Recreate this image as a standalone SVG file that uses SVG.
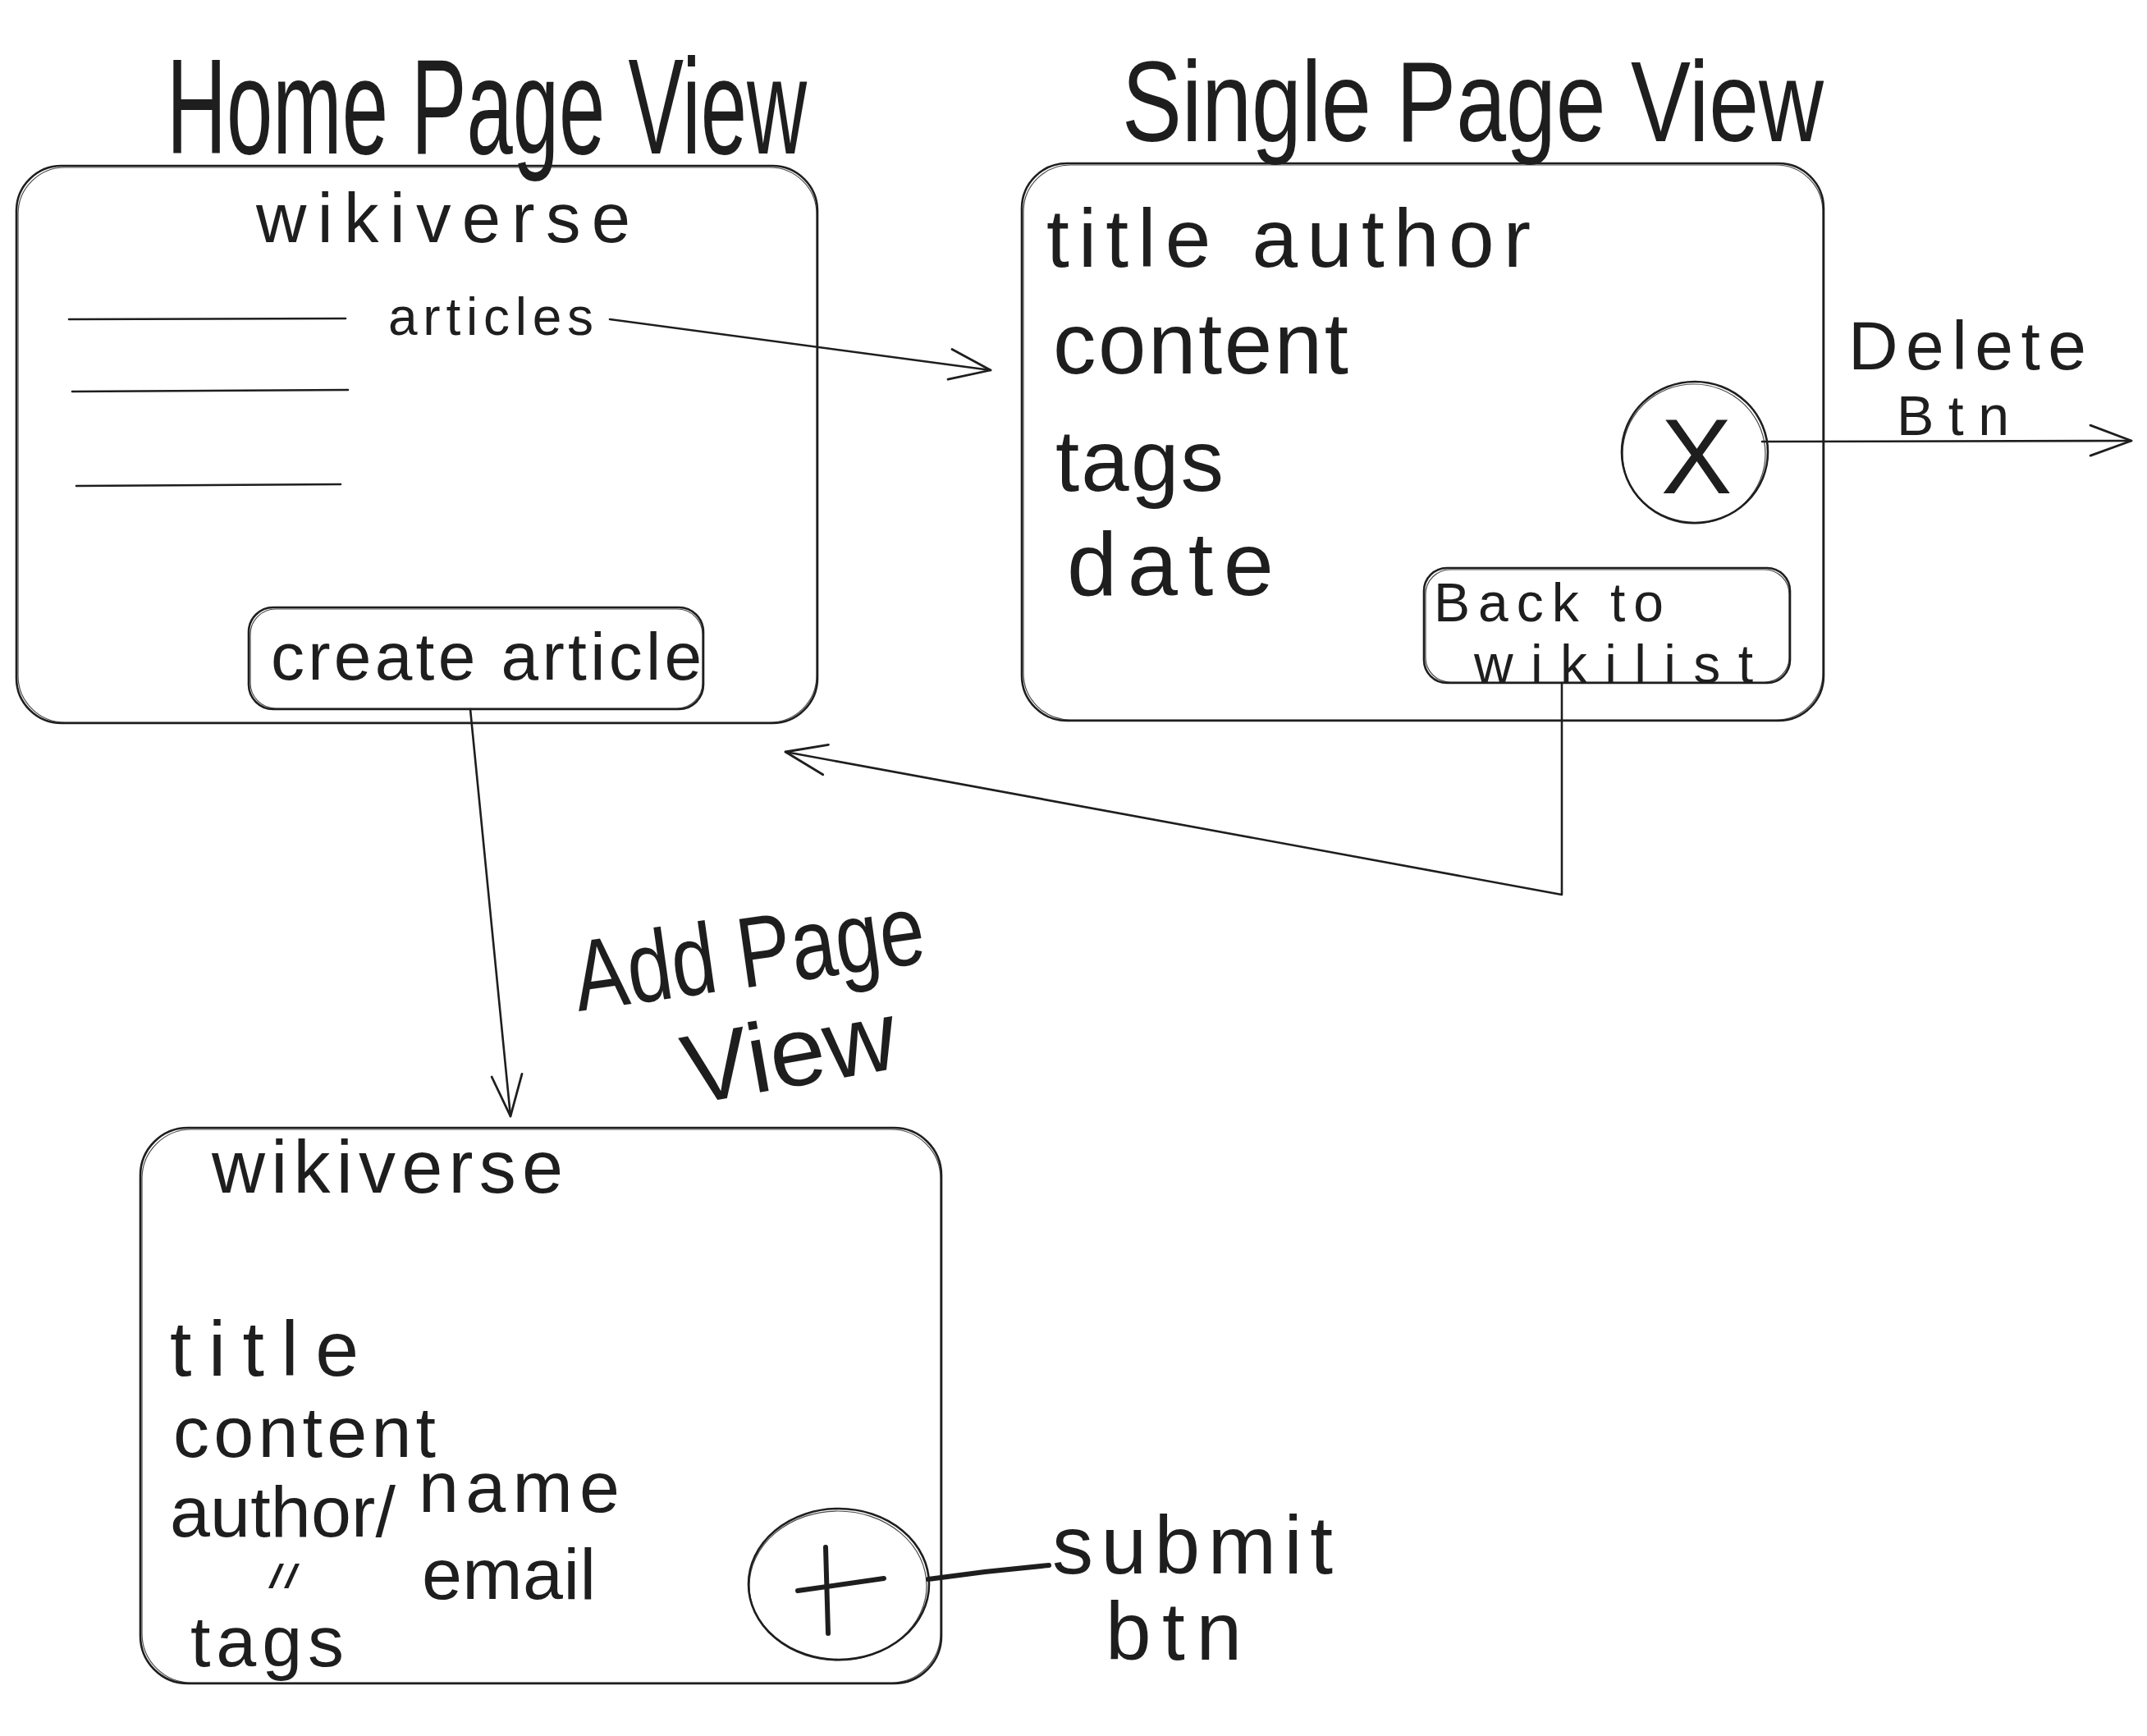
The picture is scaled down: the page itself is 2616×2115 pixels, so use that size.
<svg xmlns="http://www.w3.org/2000/svg" width="2616" height="2115" viewBox="0 0 2616 2115">
  <style>
    .bg { fill: #ffffff; }
    .frame { fill: none; stroke: #1e1e1e; stroke-width: 2.6; }
    .frame2 { fill: none; stroke: #1e1e1e; stroke-width: 1.2; opacity: 0.8; }
    .rule { fill: none; stroke: #1e1e1e; stroke-width: 2.6; stroke-linecap: round; }
    .wire { fill: none; stroke: #1e1e1e; stroke-width: 2.6; stroke-linecap: round; stroke-linejoin: round; }
    .bold { fill: none; stroke: #1e1e1e; stroke-width: 6; stroke-linecap: round; }
    .hand { font-family: "Liberation Sans", "DejaVu Sans", sans-serif; fill: #1e1e1e; }
  </style>
  <defs>
    <marker id="chevron" markerUnits="userSpaceOnUse" markerWidth="80" markerHeight="80" viewBox="-60 -40 80 80" refX="0" refY="0" orient="auto" overflow="visible">
      <path d="M-50,-19 L0,0 L-50,18" fill="none" stroke="#1e1e1e" stroke-width="2.8" stroke-linecap="round" stroke-linejoin="round"/>
    </marker>
  </defs>

  <rect class="bg" x="0" y="0" width="2616" height="2115"/>

  <!-- Home page screen -->
  <g id="home-page">
    <text class="hand" x="203" y="187" font-size="165" textLength="780" lengthAdjust="spacingAndGlyphs">Home Page View</text>
    <rect class="frame" x="20" y="202" width="976" height="679" rx="55"/>
    <rect class="frame2" x="22" y="204" width="973" height="676" rx="57"/>
    <text class="hand" x="312" y="295" font-size="85" textLength="456" lengthAdjust="spacing">wikiverse</text>
    <line class="rule" x1="84" y1="389" x2="421" y2="388"/>
    <line class="rule" x1="88" y1="477" x2="424" y2="475"/>
    <line class="rule" x1="93" y1="592" x2="415" y2="590"/>
    <text class="hand" x="473" y="408" font-size="64" textLength="250" lengthAdjust="spacing">articles</text>
    <g id="create-article-btn">
      <rect class="frame" x="303" y="740" width="554" height="124" rx="30"/>
      <rect class="frame2" x="305" y="742" width="551" height="121" rx="31"/>
      <text class="hand" x="330" y="828" font-size="82" textLength="525" lengthAdjust="spacing">create article</text>
    </g>
  </g>

  <!-- Single article screen -->
  <g id="single-page">
    <text class="hand" x="1367" y="172" font-size="140" textLength="855" lengthAdjust="spacingAndGlyphs">Single Page View</text>
    <rect class="frame" x="1245" y="199" width="977" height="679" rx="55"/>
    <rect class="frame2" x="1247" y="201" width="974" height="676" rx="57"/>
    <text class="hand" x="1275" y="325" font-size="100" textLength="590" lengthAdjust="spacing">title author</text>
    <text class="hand" x="1283" y="455" font-size="105" textLength="360" lengthAdjust="spacing">content</text>
    <text class="hand" x="1286" y="598" font-size="105" textLength="205" lengthAdjust="spacing">tags</text>
    <text class="hand" x="1300" y="725" font-size="110" textLength="252" lengthAdjust="spacing">date</text>
    <g id="delete-btn">
      <ellipse class="frame" cx="2065" cy="551" rx="89" ry="86"/>
      <ellipse class="frame2" cx="2064" cy="553" rx="87" ry="85"/>
      <text class="hand" x="2067" y="601" font-size="130" text-anchor="middle">X</text>
    </g>
    <g id="back-btn">
      <rect class="frame" x="1735" y="692" width="446" height="140" rx="28"/>
      <rect class="frame2" x="1737" y="694" width="443" height="137" rx="30"/>
      <text class="hand" x="1747" y="757" font-size="66" textLength="280" lengthAdjust="spacing">Back to</text>
      <text class="hand" x="1796" y="832" font-size="66" textLength="340" lengthAdjust="spacing">wikilist</text>
    </g>
  </g>

  <!-- Delete button label -->
  <g id="delete-label">
    <text class="hand" x="2252" y="450" font-size="84" textLength="290" lengthAdjust="spacing">Delete</text>
    <text class="hand" x="2311" y="530" font-size="68" textLength="137" lengthAdjust="spacing">Btn</text>
  </g>

  <!-- Add article screen -->
  <g id="add-page">
    <text class="hand" x="705" y="1232" font-size="122" textLength="430" lengthAdjust="spacingAndGlyphs" transform="rotate(-8 705 1232)">Add Page</text>
    <text class="hand" x="840" y="1346" font-size="120" textLength="262" lengthAdjust="spacingAndGlyphs" transform="rotate(-10 840 1346)">View</text>
    <rect class="frame" x="171" y="1374" width="976" height="677" rx="58"/>
    <rect class="frame2" x="173" y="1376" width="973" height="674" rx="60"/>
    <text class="hand" x="258" y="1453" font-size="90" textLength="428" lengthAdjust="spacing">wikiverse</text>
    <text class="hand" x="207" y="1676" font-size="95" textLength="230" lengthAdjust="spacing">title</text>
    <text class="hand" x="211" y="1775" font-size="88" textLength="320" lengthAdjust="spacing">content</text>
    <text class="hand" x="207" y="1872" font-size="88" textLength="275" lengthAdjust="spacing">author/</text>
    <text class="hand" x="510" y="1842" font-size="88" textLength="245" lengthAdjust="spacing">name</text>
    <text class="hand" x="327" y="1935" font-size="40" textLength="38" lengthAdjust="spacingAndGlyphs">//</text>
    <text class="hand" x="514" y="1948" font-size="88" textLength="212" lengthAdjust="spacing">email</text>
    <text class="hand" x="232" y="2030" font-size="88" textLength="187" lengthAdjust="spacing">tags</text>
    <g id="submit-btn">
      <ellipse class="frame" cx="1022" cy="1930" rx="110" ry="92"/>
      <ellipse class="frame2" cx="1021" cy="1932" rx="108" ry="91"/>
      <line class="bold" x1="972" y1="1938" x2="1077" y2="1923"/>
      <line class="bold" x1="1006" y1="1885" x2="1009" y2="1990"/>
    </g>
  </g>

  <!-- Submit button label -->
  <g id="submit-label">
    <text class="hand" x="1282" y="1917" font-size="100" textLength="342" lengthAdjust="spacing">submit</text>
    <text class="hand" x="1347" y="2022" font-size="100" textLength="166" lengthAdjust="spacing">btn</text>
  </g>

  <!-- Navigation links between screens -->
  <g id="connectors">
    <path class="wire" d="M743,389 L1207,451" marker-end="url(#chevron)"/>
    <path class="wire" d="M573,864 L622,1360" marker-end="url(#chevron)"/>
    <path class="wire" d="M1903,832 L1903,1090 L957,916" marker-end="url(#chevron)"/>
    <path class="wire" d="M2147,538 L2597,537" marker-end="url(#chevron)"/>
    <path class="bold" d="M1131,1924 L1200,1915 L1278,1907"/>
  </g>
</svg>
